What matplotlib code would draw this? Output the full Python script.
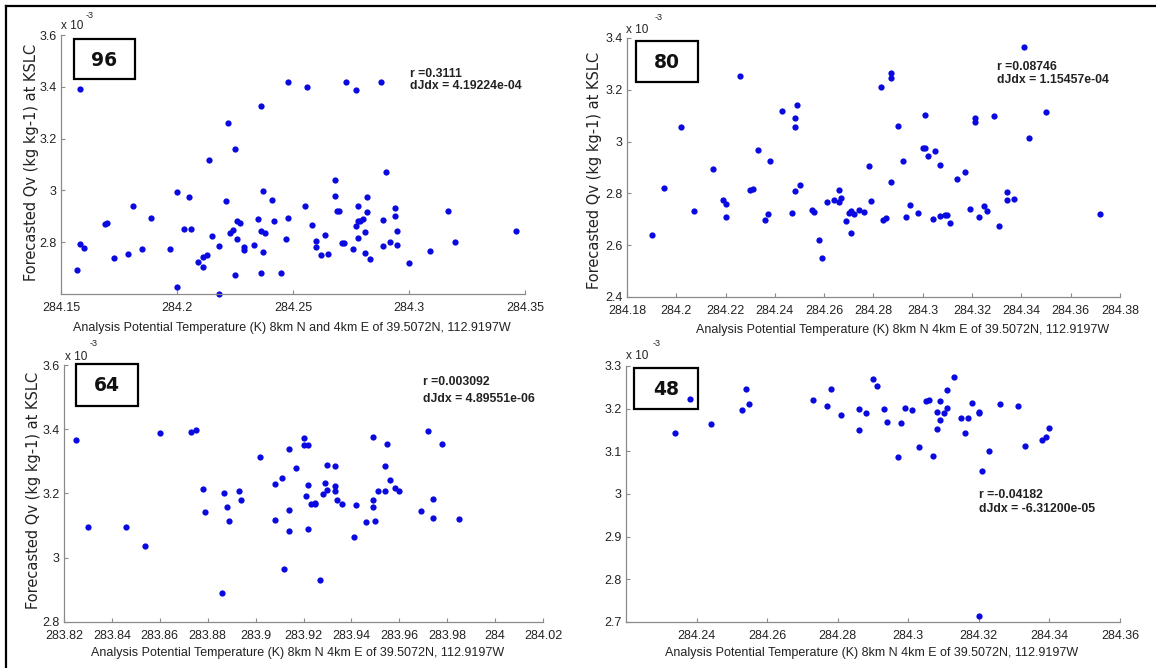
import matplotlib
matplotlib.use("Agg")
import matplotlib.pyplot as plt
from matplotlib.lines import Line2D
from matplotlib.patches import Rectangle

W, H = 1156, 668

# ---------------- data (Qv in units of 1e-3 kg/kg) ----------------
p96_x = [284.158, 284.157, 284.158, 284.160, 284.169, 284.170, 284.173, 284.179, 284.181, 284.185,
         284.189, 284.197, 284.200, 284.200, 284.203, 284.205, 284.206, 284.209, 284.211, 284.211,
         284.213, 284.214, 284.215, 284.218, 284.218, 284.221, 284.222, 284.223, 284.224, 284.225,
         284.225, 284.226, 284.226, 284.227, 284.229, 284.229, 284.233, 284.235, 284.236, 284.236,
         284.236, 284.237, 284.237, 284.238, 284.241, 284.242, 284.245, 284.247, 284.248, 284.248,
         284.255, 284.256, 284.258, 284.260, 284.260, 284.262, 284.264, 284.265, 284.268, 284.268,
         284.269, 284.270, 284.271, 284.272, 284.273, 284.276, 284.277, 284.277, 284.278, 284.278,
         284.278, 284.279, 284.280, 284.281, 284.281, 284.282, 284.282, 284.283, 284.288, 284.289,
         284.289, 284.290, 284.292, 284.294, 284.294, 284.295, 284.295, 284.300, 284.309, 284.317,
         284.320, 284.346]
p96_y = [3.392, 2.693, 2.794, 2.778, 2.872, 2.876, 2.740, 2.754, 2.940, 2.774,
         2.895, 2.773, 2.992, 2.627, 2.850, 2.976, 2.850, 2.722, 2.742, 2.704,
         2.751, 3.116, 2.825, 2.787, 2.601, 2.960, 3.261, 2.835, 2.848, 3.159,
         2.672, 2.814, 2.881, 2.873, 2.781, 2.768, 2.791, 2.890, 3.324, 2.844,
         2.681, 2.763, 2.997, 2.836, 2.962, 2.880, 2.683, 2.812, 3.417, 2.893,
         2.940, 3.401, 2.866, 2.805, 2.782, 2.750, 2.827, 2.754, 2.980, 3.039,
         2.922, 2.922, 2.798, 2.796, 3.420, 2.773, 3.389, 2.863, 2.880, 2.939,
         2.817, 2.880, 2.890, 2.759, 2.840, 2.915, 2.974, 2.737, 3.417, 2.885,
         2.787, 3.070, 2.799, 2.902, 2.933, 2.845, 2.791, 2.719, 2.767, 2.920,
         2.800, 2.845]

p80_x = [284.190, 284.195, 284.202, 284.207, 284.215, 284.219, 284.220, 284.220, 284.226, 284.230,
         284.231, 284.233, 284.236, 284.237, 284.238, 284.243, 284.247, 284.248, 284.248, 284.248,
         284.249, 284.250, 284.255, 284.256, 284.258, 284.259, 284.261, 284.264, 284.266, 284.266,
         284.267, 284.269, 284.270, 284.271, 284.271, 284.272, 284.274, 284.276, 284.278, 284.279,
         284.283, 284.284, 284.285, 284.287, 284.287, 284.287, 284.290, 284.292, 284.293, 284.295,
         284.298, 284.300, 284.301, 284.301, 284.302, 284.304, 284.305, 284.307, 284.307, 284.309,
         284.310, 284.311, 284.314, 284.317, 284.319, 284.321, 284.321, 284.323, 284.325, 284.326,
         284.329, 284.331, 284.334, 284.334, 284.337, 284.341, 284.343, 284.350, 284.372]
p80_y = [2.639, 2.821, 3.056, 2.733, 2.895, 2.775, 2.760, 2.708, 3.252, 2.814,
         2.816, 2.968, 2.696, 2.722, 2.924, 3.118, 2.724, 3.091, 3.055, 2.809,
         3.140, 2.834, 2.735, 2.728, 2.620, 2.552, 2.766, 2.773, 2.766, 2.813,
         2.784, 2.695, 2.726, 2.733, 2.646, 2.720, 2.736, 2.728, 2.907, 2.772,
         3.212, 2.699, 2.704, 3.246, 3.265, 2.843, 3.059, 2.926, 2.709, 2.754,
         2.726, 2.975, 2.975, 3.103, 2.943, 2.701, 2.962, 2.910, 2.713, 2.717,
         2.718, 2.684, 2.857, 2.883, 2.740, 3.092, 3.077, 2.709, 2.751, 2.733,
         3.098, 2.674, 2.804, 2.776, 2.777, 3.367, 3.015, 3.114, 2.722]

p64_x = [283.825, 283.830, 283.846, 283.854, 283.860, 283.873, 283.875, 283.878, 283.879, 283.886,
         283.887, 283.888, 283.889, 283.893, 283.894, 283.902, 283.908, 283.908, 283.911, 283.912,
         283.914, 283.914, 283.914, 283.917, 283.920, 283.920, 283.922, 283.921, 283.922, 283.922,
         283.923, 283.925, 283.925, 283.927, 283.928, 283.929, 283.930, 283.930, 283.933, 283.933,
         283.933, 283.934, 283.936, 283.941, 283.942, 283.946, 283.949, 283.949, 283.949, 283.950,
         283.951, 283.954, 283.954, 283.955, 283.956, 283.958, 283.960, 283.969, 283.972, 283.974,
         283.974, 283.978, 283.985]
p64_y = [3.368, 3.097, 3.097, 3.037, 3.387, 3.391, 3.398, 3.213, 3.141, 2.891,
         3.203, 3.159, 3.113, 3.207, 3.179, 3.315, 3.116, 3.231, 3.249, 2.966,
         3.340, 3.084, 3.149, 3.278, 3.373, 3.351, 3.351, 3.191, 3.228, 3.091,
         3.167, 3.170, 3.168, 2.930, 3.198, 3.233, 3.211, 3.289, 3.285, 3.222,
         3.207, 3.180, 3.166, 3.066, 3.163, 3.112, 3.375, 3.180, 3.158, 3.115,
         3.209, 3.287, 3.207, 3.354, 3.242, 3.216, 3.207, 3.146, 3.395, 3.183,
         3.125, 3.355, 3.122]

p48_x = [284.234, 284.238, 284.244, 284.253, 284.254, 284.255, 284.273, 284.277, 284.278, 284.281,
         284.286, 284.286, 284.288, 284.290, 284.291, 284.293, 284.294, 284.297, 284.298, 284.299,
         284.301, 284.303, 284.305, 284.306, 284.307, 284.308, 284.308, 284.309, 284.309, 284.310,
         284.311, 284.311, 284.313, 284.315, 284.316, 284.317, 284.318, 284.320, 284.320, 284.321,
         284.320, 284.323, 284.326, 284.331, 284.333, 284.338, 284.339, 284.340]
p48_y = [3.143, 3.222, 3.165, 3.196, 3.245, 3.211, 3.220, 3.207, 3.247, 3.185,
         3.151, 3.200, 3.189, 3.270, 3.252, 3.199, 3.169, 3.086, 3.167, 3.202,
         3.196, 3.109, 3.217, 3.221, 3.090, 3.152, 3.192, 3.173, 3.218, 3.189,
         3.202, 3.243, 3.274, 3.179, 3.143, 3.178, 3.213, 3.192, 3.190, 3.053,
         2.715, 3.100, 3.210, 3.206, 3.113, 3.127, 3.134, 3.154]

panel_ids = ["96", "80", "64", "48"]
r_texts = ["r =0.3111", "r =0.08746", "r =0.003092", "r =-0.04182"]
slope_texts = ["dJdx = 4.19224e-04", "dJdx = 1.15457e-04", "dJdx = 4.89551e-06", "dJdx = -6.31200e-05"]

xticks_96 = [284.15, 284.2, 284.25, 284.3, 284.35]
xlabels_96 = ["284.15", "284.2", "284.25", "284.3", "284.35"]
xticks_80 = [284.18, 284.2, 284.22, 284.24, 284.26, 284.28, 284.3, 284.32, 284.34, 284.36, 284.38]
xlabels_80 = ["284.18", "284.2", "284.22", "284.24", "284.26", "284.28", "284.3", "284.32", "284.34", "284.36", "284.38"]
xticks_64 = [283.82, 283.84, 283.86, 283.88, 283.9, 283.92, 283.94, 283.96, 283.98, 284.0, 284.02]
xlabels_64 = ["283.82", "283.84", "283.86", "283.88", "283.9", "283.92", "283.94", "283.96", "283.98", "284", "284.02"]
xticks_48 = [284.24, 284.26, 284.28, 284.3, 284.32, 284.34, 284.36]
xlabels_48 = ["284.24", "284.26", "284.28", "284.3", "284.32", "284.34", "284.36"]

yticks_96 = [2.8, 3.0, 3.2, 3.4, 3.6]
ylabels_96 = ["2.8", "3", "3.2", "3.4", "3.6"]
yticks_80 = [2.4, 2.6, 2.8, 3.0, 3.2, 3.4]
ylabels_80 = ["2.4", "2.6", "2.8", "3", "3.2", "3.4"]
yticks_64 = [2.8, 3.0, 3.2, 3.4, 3.6]
ylabels_64 = ["2.8", "3", "3.2", "3.4", "3.6"]
yticks_48 = [2.7, 2.8, 2.9, 3.0, 3.1, 3.2, 3.3]
ylabels_48 = ["2.7", "2.8", "2.9", "3", "3.1", "3.2", "3.3"]

xlabel_1 = "Analysis Potential Temperature (K) 8km N and 4km E of 39.5072N, 112.9197W"
xlabel_2 = "Analysis Potential Temperature (K) 8km N 4km E of 39.5072N, 112.9197W"
ylabel_txt = "Forecasted Qv (kg kg-1) at KSLC"

# ---------------- layout ----------------
plt.rcParams['font.family'] = ['Liberation Sans', 'DejaVu Sans']

fig = plt.figure(figsize=(W / 100, H / 100), dpi=100)
fig.patch.set_facecolor('white')


def fx(px):
    return px / W


def fy(py):
    return 1 - py / H


# (left, right, top, bottom) in pixels
boxes = [(61, 525, 35, 294), (627, 1120, 38, 297), (64, 543, 365, 622), (626, 1120, 366, 622)]
xlims = [(284.15, 284.35), (284.18, 284.38), (283.82, 284.02), (284.22, 284.36)]
ylims = [(2.6, 3.6), (2.4, 3.4), (2.8, 3.6), (2.7, 3.3)]
xs = [p96_x, p80_x, p64_x, p48_x]
ys = [p96_y, p80_y, p64_y, p48_y]
xts = [(xticks_96, xlabels_96), (xticks_80, xlabels_80), (xticks_64, xlabels_64), (xticks_48, xlabels_48)]
yts = [(yticks_96, ylabels_96), (yticks_80, ylabels_80), (yticks_64, ylabels_64), (yticks_48, ylabels_48)]
idboxes = [(74, 135, 39, 79), (636, 698, 41, 82), (76, 138, 364, 406), (634, 698, 368, 409)]
rpos = [(410, 74, 86), (997, 67, 80), (423, 382, 399), (979, 495, 509)]
xl_pos = [(292, 328, xlabel_1), (903, 330, xlabel_2), (298, 653, xlabel_2), (872, 653, xlabel_2)]
yl_pos = [(32, 162), (595, 170), (34, 490), None]
exp_pos = [(61, 26, 86, 15), (626, 30, 655, 17), (65, 357, 90, 343), (626, 356, 653, 343)]

axis_grey = '#8a8a8a'
text_col = '#222222'
dot_col = '#0a0ae0'

for i in range(4):
    l, r, t, b = boxes[i]
    ax = fig.add_axes([fx(l), fy(b), (r - l) / W, (b - t) / H])
    ax.plot(xs[i], ys[i], 'o', color=dot_col, markersize=4.5, markeredgewidth=0, clip_on=False)
    ax.set_xlim(*xlims[i])
    ax.set_ylim(*ylims[i])
    ax.set_xticks(xts[i][0])
    ax.set_xticklabels(xts[i][1])
    ax.set_yticks(yts[i][0])
    ax.set_yticklabels(yts[i][1])
    for s in ['top', 'right']:
        ax.spines[s].set_visible(False)
    for s in ['left', 'bottom']:
        ax.spines[s].set_color(axis_grey)
        ax.spines[s].set_linewidth(0.9)
    ax.tick_params(direction='in', length=3, width=0.8, color=axis_grey,
                   labelsize=9, labelcolor=text_col)
    ax.tick_params(axis='x', pad=6)
    ax.tick_params(axis='y', pad=3)
    ax.patch.set_alpha(0)

    # id box
    bl, br, bt, bb = idboxes[i]
    fig.add_artist(Rectangle((fx(bl), fy(bb)), (br - bl) / W, (bb - bt) / H,
                             transform=fig.transFigure, fill=False, edgecolor='black', linewidth=1.6))
    fig.text(fx((bl + br) / 2), fy((bt + bb) / 2 + 1), panel_ids[i], ha='center', va='center',
             fontsize=13.5, fontweight='bold', family=['DejaVu Sans'], color='#111111')

    # stats text
    rx, ry1, ry2 = rpos[i]
    fig.text(fx(rx), fy(ry1), r_texts[i], ha='left', va='center', fontsize=8.8,
             fontweight='bold', color=text_col)
    fig.text(fx(rx), fy(ry2), slope_texts[i], ha='left', va='center', fontsize=8.8,
             fontweight='bold', color=text_col)

    # axis labels
    xx, xy, xt = xl_pos[i]
    fig.text(fx(xx), fy(xy), xt, ha='center', va='center', fontsize=9, color=text_col)
    if yl_pos[i] is not None:
        yx, yy = yl_pos[i]
        fig.text(fx(yx), fy(yy), ylabel_txt, ha='center', va='center', rotation=90,
                 fontsize=10.5, family=['DejaVu Sans'], color=text_col)

    # exponent
    ex, ey, sx, sy = exp_pos[i]
    fig.text(fx(ex), fy(ey), "x 10", ha='left', va='center', fontsize=8.5, color=text_col)
    fig.text(fx(sx), fy(sy), "-3", ha='left', va='center', fontsize=6.5, color=text_col)

# outer frame (top and left edges)
fig.add_artist(Line2D([fx(6), fx(W)], [fy(6), fy(6)], transform=fig.transFigure,
                      color='black', linewidth=1.6))
fig.add_artist(Line2D([fx(6), fx(6)], [fy(6), fy(H)], transform=fig.transFigure,
                      color='black', linewidth=1.6))

fig.savefig('out.png', dpi=100, facecolor='white')
